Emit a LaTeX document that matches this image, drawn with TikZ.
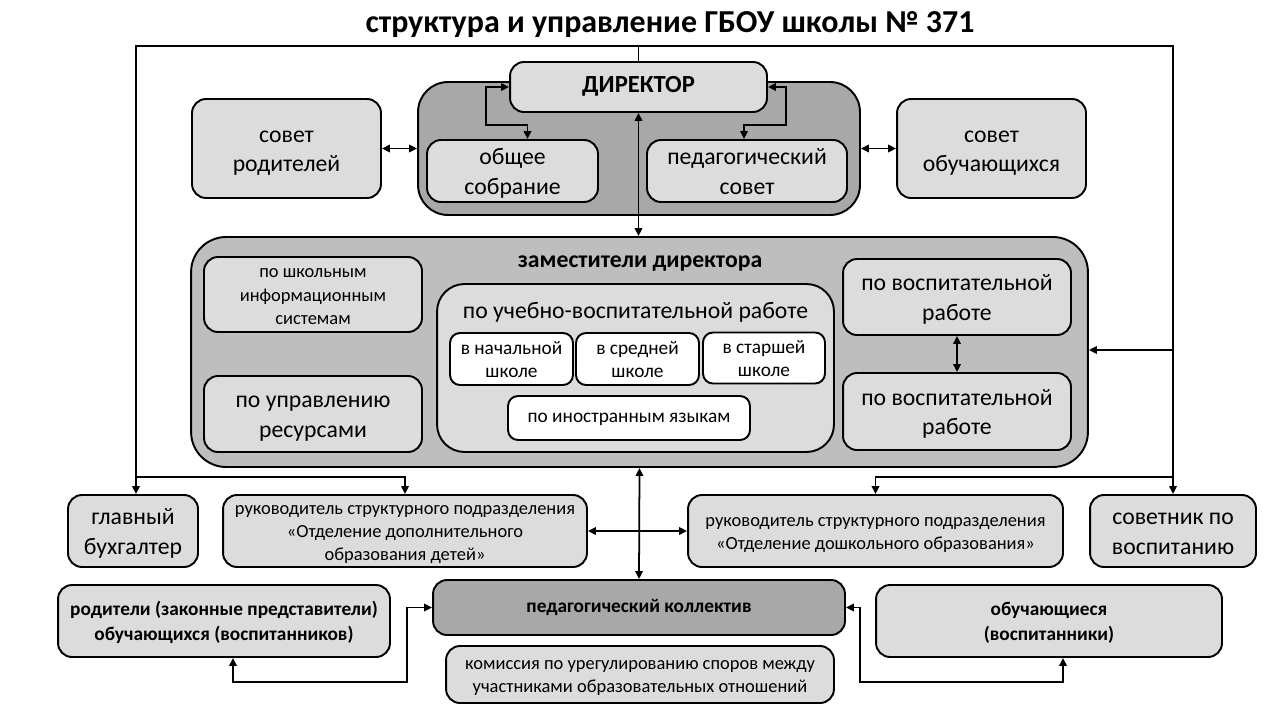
\documentclass[tikz,border=0pt]{standalone}
\usepackage{fontspec}
\setmainfont{Carlito}
\usepackage{tikz}
\usetikzlibrary{arrows.meta,positioning,calc}
\definecolor{boxlight}{RGB}{220,220,220}
\definecolor{boxmid}{RGB}{190,190,190}
\definecolor{boxdark}{RGB}{168,168,168}
\newcommand{\tstrut}{\rule{0pt}{1.0em}}
\tikzset{
  unitbox/.style={rectangle, rounded corners=0.28cm, draw=black, line width=1.1pt,
                  fill=boxlight, align=center, inner sep=0pt,
                  execute at begin node={\rule{0pt}{0.75em}},
                  execute at end node={\rule[-0.28em]{0pt}{0pt}}},
  groupbox/.style={unitbox, rounded corners=0.6cm, fill=#1},
  whitebox/.style={unitbox, rounded corners=0.2cm, fill=white},
  arr/.style={-{Triangle[length=1.6mm,width=1.5mm]}, line width=1pt},
  arrboth/.style={{Triangle[length=1.6mm,width=1.5mm]}-{Triangle[length=1.6mm,width=1.5mm]}, line width=1pt},
  big/.style={font=\fontsize{13.5}{17}\selectfont},
  small/.style={font=\fontsize{10.5}{13.2}\selectfont},
  bsmall/.style={font=\bfseries\fontsize{11}{14}\selectfont},
}

\begin{document}
\begin{tikzpicture}[x=0.02cm,y=-0.02cm]
  \useasboundingbox (0,0) rectangle (1280,720);
  % Title
  \node[font=\bfseries\fontsize{18.2}{22}\selectfont] (title) at (670,25)
    {структура и управление ГБОУ школы № 371};
  % Director block
  \node[groupbox=boxdark, minimum width=8.84cm, minimum height=2.66cm] (dirgroup) at (639,148.5) {};
  \node[unitbox, minimum width=5.14cm, minimum height=1.0cm, font=\bfseries\fontsize{14}{17}\selectfont] (dir) at (638.5,87) {ДИРЕКТОР};
  \node[unitbox, big, minimum width=3.42cm, minimum height=1.24cm] (obshee) at (512.5,171) {\tstrut общее\\собрание};
  \node[unitbox, big, minimum width=4.0cm, minimum height=1.24cm] (pedsovet) at (747,171) {\tstrut педагогический\\совет};
  \node[unitbox, big, minimum width=3.78cm, minimum height=1.98cm] (sovrod) at (286.5,148.5) {\tstrut совет\\родителей};
  \node[unitbox, big, minimum width=3.78cm, minimum height=1.98cm] (sovobuch) at (991.5,148.5) {\tstrut совет\\обучающихся};
  % Deputies block
  \node[groupbox=boxmid, rounded corners=0.7cm, minimum width=17.94cm, minimum height=4.6cm] (zam) at (639.5,352) {};
  \node[font=\bfseries\fontsize{13.5}{16}\selectfont] (zamtitle) at (640,264) {заместители директора};
  \node[unitbox, small, minimum width=4.36cm, minimum height=1.5cm] (infsys) at (313,294.5) {\tstrut по школьным\\информационным\\системам};
  \node[unitbox, big, minimum width=4.36cm, minimum height=1.52cm] (resources) at (313,414) {\tstrut по управлению\\ресурсами};
  \node[unitbox, rounded corners=0.55cm, minimum width=7.94cm, minimum height=3.36cm] (uvr) at (635.5,368) {};
  \node[big] (uvrtitle) at (635.5,312) {по учебно-воспитательной работе};
  \node[whitebox, font=\fontsize{11}{13.6}\selectfont, minimum width=2.46cm, minimum height=1.04cm] (nach) at (511.5,359) {\tstrut в начальной\\школе};
  \node[whitebox, font=\fontsize{11}{13.6}\selectfont, minimum width=2.46cm, minimum height=1.04cm] (sred) at (637.5,359) {\tstrut в средней\\школе};
  \node[whitebox, font=\fontsize{11}{13.6}\selectfont, minimum width=2.44cm, minimum height=1.02cm] (starsh) at (764,358) {\tstrut в старшей\\школе};
  \node[whitebox, font=\fontsize{11}{13.6}\selectfont, minimum width=4.84cm, minimum height=0.88cm] (inostr) at (629,418) {по иностранным языкам};
  \node[unitbox, big, minimum width=4.56cm, minimum height=1.52cm] (vr1) at (957,297) {\tstrut по воспитательной\\работе};
  \node[unitbox, big, minimum width=4.56cm, minimum height=1.54cm] (vr2) at (957,411.5) {\tstrut по воспитательной\\работе};
  % Row of units
  \node[unitbox, big, minimum width=2.6cm, minimum height=1.44cm] (buh) at (133,531) {\tstrut главный\\бухгалтер};
  \node[unitbox, small, minimum width=7.28cm, minimum height=1.44cm] (odod) at (405,531)
    {\tstrut руководитель структурного подразделения\\«Отделение дополнительного\\образования детей»};
  \node[unitbox, small, minimum width=7.5cm, minimum height=1.44cm] (dosh) at (875.5,531)
    {\tstrut руководитель структурного подразделения\\«Отделение дошкольного образования»};
  \node[unitbox, big, minimum width=3.32cm, minimum height=1.44cm] (sovetnik) at (1173,531) {\tstrut советник по\\воспитанию};
  % Bottom row
  \node[unitbox, bsmall, minimum width=6.64cm, minimum height=1.44cm] (roditeli) at (224,621)
    {\tstrut родители (законные представители)\\обучающихся (воспитанников)};
  \node[unitbox, bsmall, fill=boxdark, minimum width=8.24cm, minimum height=1.1cm] (pedkoll) at (639,607.5) {педагогический коллектив};
  \node[unitbox, small, minimum width=7.76cm, minimum height=1.14cm] (komissiya) at (640,674.5)
    {\tstrut комиссия по урегулированию споров между\\участниками образовательных отношений};
  \node[unitbox, bsmall, minimum width=6.92cm, minimum height=1.44cm] (obuch) at (1049,621) {\tstrut обучающиеся\\(воспитанники)};
  % Frame lines
  \coordinate (topL) at (136,46);
  \coordinate (topR) at (1173,46);
  \coordinate (midL) at (136,477);
  \coordinate (midR) at (1173,477);
  \coordinate (sideR) at (1173,350);
  \coordinate (botL) at (407,682);
  \coordinate (botR) at (860,682);
  \draw[arr] (dir.north) |- (topL) -- (topL |- buh.north);
  \draw[arr] (dir.north) |- (topR) -- (topR |- sovetnik.north);
  \draw[arr] (midL) -| (odod.north);
  \draw[arr] (midR) -| (dosh.north);
  \draw[arr] (sideR) -- (sideR -| zam.east);
  % Links
  \draw[arrboth] (dir.south) -- (dir.south |- zam.north);
  \draw[arrboth] (zam.south) -- (pedkoll.north);
  \draw[arrboth] (odod.east) -- (dosh.west);
  \draw[arrboth] (sovrod.east) -- (dirgroup.west);
  \draw[arrboth] (sovobuch.west) -- (dirgroup.east);
  \draw[arrboth] (vr1.south) -- (vr2.north);
  \draw[arrboth] (dir.west) -| ++(-23,38) -| ([xshift=0.3cm]obshee.north);
  \draw[arrboth] (dir.east) -| ++(18,38) -| ([xshift=-0.06cm]pedsovet.north);
  \draw[arrboth] ([xshift=0.18cm]roditeli.south) |- (botL) |- (pedkoll.west);
  \draw[arrboth] (pedkoll.east) -| (botR) -| ([xshift=0.28cm]obuch.south);
\end{tikzpicture}
\end{document}
